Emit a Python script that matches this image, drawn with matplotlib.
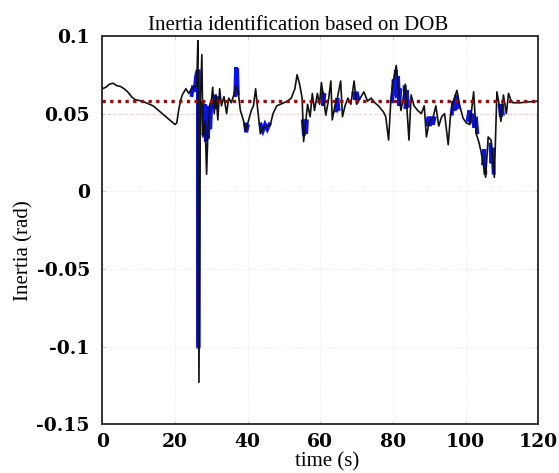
import numpy as np
import matplotlib
matplotlib.use("Agg")
import matplotlib.pyplot as plt

# identified inertia (black trace)
t_black = [0, 1, 2, 3, 4, 5, 6, 7, 8, 9, 10, 11, 12, 13, 14, 15, 16, 17, 18, 19, 20,
           20.5, 21, 21.5, 22, 23, 23.8, 24.5, 25.2, 26, 26.3, 26.6, 27.0, 27.4, 27.7,
           28.3, 28.7, 29.1, 29.6, 30, 30.4, 30.8, 31.3, 31.8, 32.3, 32.8, 33.5, 34.2,
           34.8, 35.5, 36.2, 36.8, 37.4, 38, 38.8, 39.5, 40.2, 41, 41.6, 42.2, 42.8,
           43.5, 44.3, 45.2, 46.2, 47, 48, 49, 50, 51, 52, 53, 53.6, 54.3, 55, 55.4,
           56, 56.5, 57.2, 57.8, 58.4, 59.2, 59.8, 60.3, 60.9, 61.5, 62.2, 62.9, 63.3,
           64, 64.7, 65.6, 66.1, 66.8, 67.6, 68.4, 69.3, 70, 71, 72, 73, 74, 75, 76,
           77.4, 78, 78.8, 79.4, 80, 80.9, 81.5, 82.2, 82.8, 83.4, 84.4, 85, 85.8,
           86.8, 87.8, 88.6, 89.2, 90, 91, 91.8, 92.6, 93.4, 94.2, 95.2, 95.8, 96.6,
           97.6, 98.4, 99.3, 100.2, 101.2, 102.2, 102.9, 103.6, 104.2, 105.5, 106.2,
           107, 107.9, 108.6, 109.2, 109.7, 110.4, 111.2, 111.8, 112.4, 113, 115, 117, 120]
v_black = [0.066, 0.067, 0.069, 0.0695, 0.068, 0.0675, 0.066, 0.064, 0.061, 0.059, 0.0585,
           0.058, 0.057, 0.056, 0.055, 0.053, 0.051, 0.049, 0.047, 0.045, 0.043,
           0.044, 0.052, 0.058, 0.062, 0.066, 0.063, 0.066, 0.067, 0.068, 0.097, -0.123,
           0.060, 0.088, 0.035, 0.045, 0.011, 0.040, 0.055, 0.058, 0.067, 0.050, 0.062,
           0.046, 0.066, 0.055, 0.061, 0.050, 0.060, 0.057, 0.062, 0.068, 0.064, 0.052,
           0.046, 0.039, 0.045, 0.052, 0.055, 0.066, 0.052, 0.037, 0.041, 0.042, 0.0425,
           0.050, 0.055, 0.056, 0.057, 0.058, 0.060, 0.066, 0.075, 0.069, 0.060, 0.032,
           0.045, 0.056, 0.048, 0.063, 0.052, 0.063, 0.056, 0.070, 0.060, 0.049, 0.058,
           0.071, 0.046, 0.055, 0.060, 0.071, 0.048, 0.055, 0.060, 0.056, 0.071, 0.056,
           0.060, 0.064, 0.058, 0.060, 0.057, 0.055, 0.051, 0.048, 0.033, 0.058, 0.070,
           0.081, 0.066, 0.052, 0.060, 0.069, 0.033, 0.062, 0.055, 0.052, 0.050, 0.055,
           0.035, 0.045, 0.047, 0.055, 0.042, 0.048, 0.050, 0.030, 0.048, 0.058, 0.065,
           0.055, 0.047, 0.044, 0.043, 0.064, 0.037, 0.032, 0.026, 0.009, 0.035, 0.033,
           0.009, 0.064, 0.056, 0.045, 0.062, 0.050, 0.063, 0.059, 0.057, 0.057, 0.0575,
           0.058]

# second estimate (blue trace), NaN separates the visible bursts
nan = np.nan
t_blue = [24.6, 25.0, 25.4, 25.8, 26.1, 26.35, 26.4, 26.5, 26.55, nan,
          27.6, 27.9, 28.2, 28.5, 28.8, 29.1, 29.4, 29.7, 30.0, nan,
          31.0, 31.3, 31.6, nan,
          36.6, 36.8, 37.0, 37.1, 37.3, nan,
          39.3, 39.6, 40.0, nan,
          43.6, 44.2, 44.8, 45.4, 46.0, nan,
          55.2, 55.5, 55.8, 56.1, 56.3, nan,
          60.5, 60.8, 61.1, nan,
          64.4, 64.7, 65.0, nan,
          69.2, 69.6, 70.0, 70.4, nan,
          79.8, 80.2, 80.5, 80.8, 81.1, 81.4, 81.7, 82.0, nan,
          83.2, 83.5, 83.8, 84.1, nan,
          89.4, 89.8, 90.2, 90.6, 91.0, 91.4, nan,
          96.2, 96.6, 97.0, 97.4, 97.8, nan,
          100.6, 101.0, 101.4, 101.8, 102.4, 102.8, 103.2, nan,
          104.8, 105.1, 105.4, nan,
          106.8, 107.1, 107.4, 107.7, nan,
          109.4, 109.7, 110.0, 110.2]
v_blue = [0.062, 0.068, 0.064, 0.074, 0.077, 0.077, -0.100, -0.100, 0.077, nan,
          0.057, 0.036, 0.056, 0.032, 0.055, 0.034, 0.054, 0.040, 0.056, nan,
          0.061, 0.053, 0.060, nan,
          0.062, 0.080, 0.066, 0.079, 0.063, nan,
          0.043, 0.038, 0.042, nan,
          0.043, 0.039, 0.043, 0.040, 0.043, nan,
          0.045, 0.036, 0.046, 0.037, 0.045, nan,
          0.063, 0.055, 0.062, nan,
          0.052, 0.060, 0.053, nan,
          0.063, 0.059, 0.064, 0.060, nan,
          0.058, 0.072, 0.062, 0.078, 0.060, 0.074, 0.055, 0.065, nan,
          0.067, 0.053, 0.065, 0.055, nan,
          0.043, 0.048, 0.042, 0.048, 0.043, 0.047, nan,
          0.050, 0.058, 0.052, 0.062, 0.054, nan,
          0.046, 0.052, 0.044, 0.050, 0.041, 0.048, 0.038, nan,
          0.018, 0.027, 0.012, nan,
          0.030, 0.018, 0.028, 0.012, nan,
          0.055, 0.048, 0.056, 0.050]

mean_value = 0.058   # red dotted average
true_value = 0.05    # faint reference line

x_ticks = [0, 20, 40, 60, 80, 100, 120]
y_ticks = [-0.15, -0.1, -0.05, 0, 0.05, 0.1]
y_labels = ['-0.15', '-0.1', '-0.05', '0', '0.05', '0.1']

plt.rcParams['font.family'] = ['Liberation Serif', 'DejaVu Serif']

fig = plt.figure(figsize=(5.59, 4.73), dpi=100)
ax = fig.add_axes([0.183, 0.103, 0.78, 0.821])

ax.grid(True, linestyle=':', color='#e4e4e4', linewidth=0.6)
ax.axhline(true_value, color='#f2c6d2', linestyle=(0, (3, 2)), linewidth=0.8, zorder=1)
ax.plot(t_blue, v_blue, color='#0a12e6', linewidth=2.8, solid_joinstyle='miter', zorder=2)
ax.plot(t_black, v_black, color='#111111', linewidth=1.2, zorder=3)
ax.axhline(mean_value, color='#8b1010', linestyle=(0, (1, 1.3)), linewidth=2.4, zorder=4)

ax.set_xlim(0, 120)
ax.set_ylim(-0.15, 0.1)
ax.set_xticks(x_ticks)
ax.set_yticks(y_ticks)
ax.set_yticklabels(y_labels)
ax.tick_params(direction='in', length=2, width=0.6, color='#bbbbbb', top=True, right=True)
ax.tick_params(axis='y', pad=9)
ax.tick_params(axis='x', pad=6)
for lab in ax.get_xticklabels() + ax.get_yticklabels():
    lab.set_fontfamily('DejaVu Serif')
    lab.set_fontweight('bold')
    lab.set_fontsize(13.5)
for sp in ax.spines.values():
    sp.set_linewidth(1.4)
    sp.set_color('#333333')

fig.text(0.533, 0.937, 'Inertia identification based on DOB', fontsize=15,
         ha='center', va='baseline')
ax.set_xlabel('time (s)', fontsize=15)
ax.xaxis.set_label_coords(0.516, -0.073)
ax.set_ylabel('Inertia (rad)', fontsize=15)
ax.yaxis.set_label_coords(-0.158, 0.448)

fig.savefig('out.png', dpi=100)
